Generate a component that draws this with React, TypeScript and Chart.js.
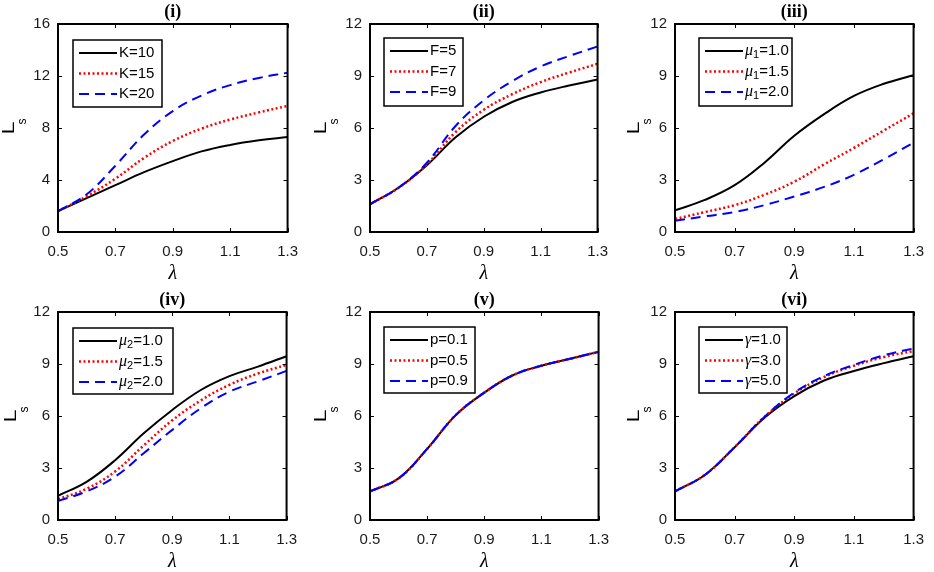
import { useEffect, useRef } from "react";
import { Chart, registerables } from "chart.js";
Chart.register(...registerables);

// ---------- data ----------
const LAMBDA = [0.5, 0.6, 0.7, 0.8, 0.9, 1.0, 1.1, 1.2, 1.3];
const X_TICKS = [0.5, 0.7, 0.9, 1.1, 1.3];
const Y_TICKS_16 = [0, 4, 8, 12, 16];
const Y_TICKS_12 = [0, 3, 6, 9, 12];
const PANEL_TITLES = ["(i)", "(ii)", "(iii)", "(iv)", "(v)", "(vi)"];

const K_LABELS = ["K=10", "K=15", "K=20"];
const K10 = [1.6, 2.6, 3.6, 4.6, 5.45, 6.2, 6.7, 7.05, 7.3];
const K15 = [1.6, 2.75, 4.1, 5.7, 7.0, 7.95, 8.65, 9.2, 9.7];
const K20 = [1.6, 2.9, 5.1, 7.5, 9.3, 10.5, 11.3, 11.85, 12.25];

const F_LABELS = ["F=5", "F=7", "F=9"];
const F5 = [1.6, 2.55, 3.85, 5.45, 6.65, 7.5, 8.05, 8.45, 8.8];
const F7 = [1.6, 2.55, 3.9, 5.75, 7.05, 7.95, 8.65, 9.2, 9.7];
const F9 = [1.6, 2.55, 4.0, 6.1, 7.6, 8.7, 9.55, 10.15, 10.7];

const MU1_LABELS = ["μ₁=1.0", "μ₁=1.5", "μ₁=2.0"];
const MU1_10 = [1.25, 1.85, 2.7, 4.0, 5.55, 6.8, 7.85, 8.55, 9.05];
const MU1_15 = [0.75, 1.15, 1.55, 2.15, 2.9, 3.9, 4.85, 5.85, 6.85];
const MU1_20 = [0.65, 0.9, 1.15, 1.55, 2.05, 2.6, 3.3, 4.2, 5.15];

const MU2_LABELS = ["μ₂=1.0", "μ₂=1.5", "μ₂=2.0"];
const MU2_10 = [1.4, 2.2, 3.45, 5.0, 6.35, 7.5, 8.3, 8.85, 9.45];
const MU2_15 = [1.2, 1.8, 2.8, 4.3, 5.75, 6.9, 7.8, 8.45, 8.95];
const MU2_20 = [1.1, 1.65, 2.5, 3.85, 5.2, 6.45, 7.4, 8.0, 8.6];

const P_LABELS = ["p=0.1", "p=0.5", "p=0.9"];
const P01 = [1.65, 2.4, 4.1, 6.05, 7.35, 8.35, 8.9, 9.3, 9.7];
const P05 = [1.65, 2.4, 4.1, 6.05, 7.35, 8.35, 8.9, 9.3, 9.7];
const P09 = [1.65, 2.4, 4.1, 6.05, 7.35, 8.35, 8.9, 9.3, 9.7];

const G_LABELS = ["γ=1.0", "γ=3.0", "γ=5.0"];
const G1 = [1.65, 2.6, 4.2, 5.9, 7.15, 8.05, 8.6, 9.05, 9.45];
const G3 = [1.65, 2.6, 4.2, 5.95, 7.3, 8.25, 8.9, 9.4, 9.75];
const G5 = [1.65, 2.6, 4.2, 5.95, 7.35, 8.3, 8.95, 9.5, 9.9];

// ---------- styles / layout ----------
const LINE_STYLES = [
  { color: "#000000", width: 2, dash: [] as number[] },
  { color: "#ff0000", width: 2.5, dash: [2, 2.5] },
  { color: "#0000ff", width: 2, dash: [10, 6] },
];

const PANELS = [
  { labels: K_LABELS, series: [K10, K15, K20], yTicks: Y_TICKS_16, left: 58, top: 24, w: 239, h: 208, lg: { x: 15, y: 16, w: 89, h: 67 }, yl: 50 },
  { labels: F_LABELS, series: [F5, F7, F9], yTicks: Y_TICKS_12, left: 370, top: 24, w: 237, h: 208, lg: { x: 14, y: 14, w: 79, h: 68 }, yl: 50 },
  { labels: MU1_LABELS, series: [MU1_10, MU1_15, MU1_20], yTicks: Y_TICKS_12, left: 675, top: 24, w: 248, h: 208, lg: { x: 24, y: 14, w: 93, h: 68 }, yl: 42 },
  { labels: MU2_LABELS, series: [MU2_10, MU2_15, MU2_20], yTicks: Y_TICKS_12, left: 58, top: 312, w: 238, h: 208, lg: { x: 15, y: 16, w: 100, h: 66 }, yl: 48 },
  { labels: P_LABELS, series: [P01, P05, P09], yTicks: Y_TICKS_12, left: 370, top: 312, w: 238, h: 208, lg: { x: 14, y: 15, w: 91, h: 66 }, yl: 50 },
  { labels: G_LABELS, series: [G1, G3, G5], yTicks: Y_TICKS_12, left: 675, top: 312, w: 248, h: 208, lg: { x: 24, y: 15, w: 88, h: 66 }, yl: 42 },
];

const PAD_L = 58;
const PAD_T = 24;
const PAD_R = 12;
const PAD_B = 58;
const SANS = "Arial, 'Liberation Sans', sans-serif";
const SERIF = "'Times New Roman', 'Liberation Serif', serif";

const SUBS: Record<string, string> = {
  "₀": "0", "₁": "1", "₂": "2", "₃": "3", "₄": "4", "₅": "5", "₆": "6", "₇": "7", "₈": "8", "₉": "9",
};

function drawRich(ctx: CanvasRenderingContext2D, str: string, x: number, y: number) {
  let cx = x;
  ctx.textAlign = "left";
  ctx.textBaseline = "middle";
  for (const ch of str) {
    let dy = 0;
    let t = ch;
    if (SUBS[ch]) {
      ctx.font = `11px ${SANS}`;
      t = SUBS[ch];
      dy = 4;
    } else if (ch === "μ" || ch === "γ") {
      ctx.font = `italic 16px ${SERIF}`;
    } else {
      ctx.font = `15px ${SANS}`;
    }
    ctx.fillText(t, cx, y + dy);
    cx += ctx.measureText(t).width;
  }
}

function Panel({ idx }: { idx: number }) {
  const ref = useRef<HTMLCanvasElement | null>(null);
  const p = PANELS[idx];
  const cw = PAD_L + p.w + PAD_R;
  const chh = PAD_T + p.h + PAD_B;

  useEffect(() => {
    if (!ref.current) return;
    const yMax = p.yTicks[p.yTicks.length - 1];
    const framePlugin = {
      id: "frame" + idx,
      afterDraw(chart: any) {
        const ctx: CanvasRenderingContext2D = chart.ctx;
        const ca = chart.chartArea;
        const xs = chart.scales.x;
        const ys = chart.scales.y;
        ctx.save();
        ctx.setLineDash([]);
        ctx.strokeStyle = "#000";
        // inward ticks
        ctx.lineWidth = 1;
        ctx.beginPath();
        for (const v of X_TICKS) {
          const px = Math.round(xs.getPixelForValue(v)) + 0.5;
          ctx.moveTo(px, ca.bottom);
          ctx.lineTo(px, ca.bottom - 4);
          ctx.moveTo(px, ca.top);
          ctx.lineTo(px, ca.top + 4);
        }
        for (const v of p.yTicks) {
          const py = Math.round(ys.getPixelForValue(v)) + 0.5;
          ctx.moveTo(ca.left, py);
          ctx.lineTo(ca.left + 4, py);
          ctx.moveTo(ca.right, py);
          ctx.lineTo(ca.right - 4, py);
        }
        ctx.stroke();
        // frame
        ctx.lineWidth = 2;
        ctx.strokeRect(ca.left, ca.top, ca.right - ca.left, ca.bottom - ca.top);
        // title
        const cx = (ca.left + ca.right) / 2;
        const midY = (ca.top + ca.bottom) / 2;
        ctx.fillStyle = "#000";
        ctx.font = `bold 18px ${SERIF}`;
        ctx.textAlign = "center";
        ctx.textBaseline = "middle";
        ctx.fillText(PANEL_TITLES[idx], cx, ca.top - 11.5);
        // x label
        ctx.font = `italic 20px ${SERIF}`;
        ctx.fillText("λ", cx, ca.bottom + 42);
        // y label L_s (rotated)
        ctx.save();
        ctx.translate(ca.left - p.yl + 5.5, midY);
        ctx.rotate(-Math.PI / 2);
        ctx.save();
        ctx.scale(1.45, 1);
        ctx.font = `16px ${SANS}`;
        ctx.textAlign = "center";
        ctx.textBaseline = "alphabetic";
        ctx.fillText("L", 0, 0);
        ctx.restore();
        ctx.font = `12px ${SANS}`;
        ctx.textAlign = "center";
        ctx.fillText("s", 6.5, 9.5);
        ctx.restore();
        // legend
        const lx = ca.left + p.lg.x;
        const ly = ca.top + p.lg.y;
        ctx.fillStyle = "#fff";
        ctx.fillRect(lx, ly, p.lg.w, p.lg.h);
        ctx.lineWidth = 1.5;
        ctx.strokeStyle = "#000";
        ctx.strokeRect(lx, ly, p.lg.w, p.lg.h);
        p.labels.forEach((lab, i) => {
          const st = LINE_STYLES[i];
          const ry = ly + 13 + 20.5 * i;
          ctx.strokeStyle = st.color;
          ctx.lineWidth = st.width;
          ctx.setLineDash(st.dash);
          ctx.beginPath();
          ctx.moveTo(lx + 6, ry);
          ctx.lineTo(lx + 44, ry);
          ctx.stroke();
          ctx.setLineDash([]);
          ctx.fillStyle = "#000";
          drawRich(ctx, lab, lx + 46, ry);
        });
        ctx.restore();
      },
    };

    const chart = new Chart(ref.current, {
      type: "line",
      data: {
        datasets: p.series.map((s, i) => ({
          label: p.labels[i],
          data: LAMBDA.map((x, j) => ({ x, y: s[j] })),
          borderColor: LINE_STYLES[i].color,
          borderWidth: LINE_STYLES[i].width,
          borderDash: LINE_STYLES[i].dash,
          pointRadius: 0,
          fill: false,
          tension: 0.4,
          order: 3 - i,
        })),
      },
      options: {
        animation: false,
        responsive: false,
        maintainAspectRatio: false,
        layout: { padding: { top: PAD_T, right: PAD_R, left: 0, bottom: 0 } },
        plugins: { legend: { display: false }, tooltip: { enabled: false }, title: { display: false } },
        events: [],
        scales: {
          x: {
            type: "linear",
            min: 0.5,
            max: 1.3,
            afterBuildTicks: (s: any) => {
              s.ticks = X_TICKS.map((v) => ({ value: v }));
            },
            afterFit: (s: any) => {
              s.height = PAD_B;
            },
            ticks: {
              autoSkip: false,
              maxRotation: 0,
              padding: 11,
              color: "#1a1a1a",
              font: { family: SANS, size: 15 },
              callback: (v: any) => Number(v).toFixed(1),
            },
            grid: { display: false, drawTicks: false },
            border: { display: false },
          },
          y: {
            type: "linear",
            min: 0,
            max: yMax,
            afterBuildTicks: (s: any) => {
              s.ticks = p.yTicks.map((v) => ({ value: v }));
            },
            afterFit: (s: any) => {
              s.width = PAD_L;
            },
            ticks: {
              autoSkip: false,
              padding: 8,
              color: "#1a1a1a",
              font: { family: SANS, size: 15 },
              callback: (v: any) => String(v),
            },
            grid: { display: false, drawTicks: false },
            border: { display: false },
          },
        },
      } as any,
      plugins: [framePlugin],
    });
    return () => chart.destroy();
  }, [idx]);

  return (
    <canvas
      ref={ref}
      width={cw}
      height={chh}
      style={{ position: "absolute", left: p.left - PAD_L, top: p.top - PAD_T, width: cw, height: chh }}
    />
  );
}

export default function App() {
  return (
    <div
      style={{
        position: "absolute",
        left: 0,
        top: 0,
        width: 934,
        height: 572,
        overflow: "hidden",
        background: "#fff",
      }}
    >
      {PANELS.map((_, i) => (
        <Panel key={i} idx={i} />
      ))}
    </div>
  );
}
